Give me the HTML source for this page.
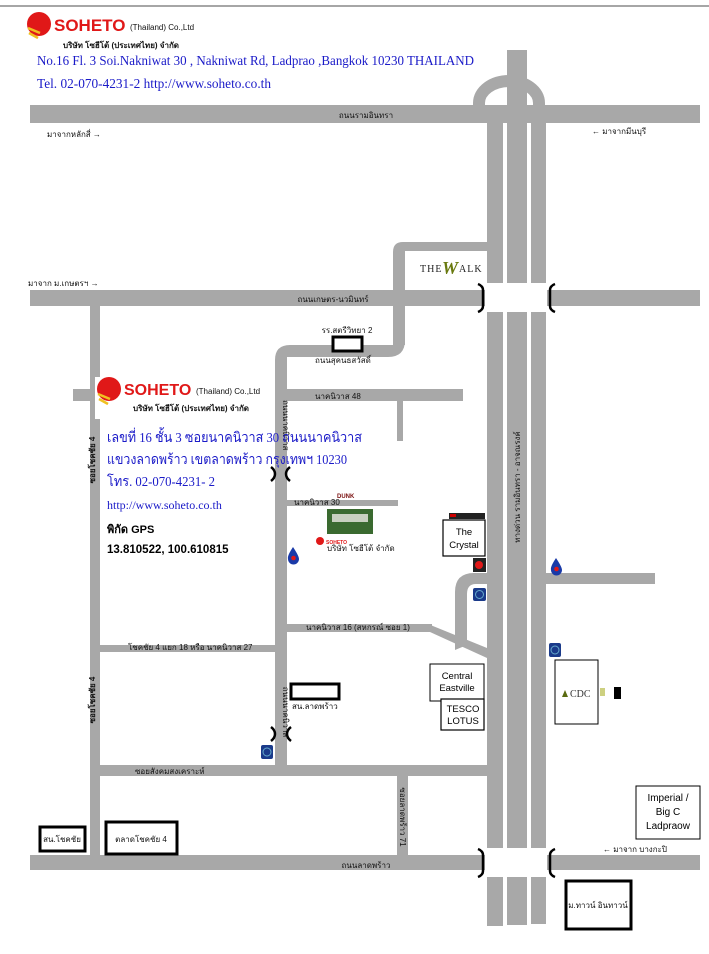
<!DOCTYPE html>
<html><head><meta charset="utf-8"><style>
html,body{margin:0;padding:0;background:#fff;}
svg{display:block;}
.t{font-family:"Liberation Sans","Noto Sans CJK SC",sans-serif;font-size:8px;fill:#111;}
.b{font-family:"Liberation Serif","Noto Serif CJK SC",serif;fill:#1a1ac8;}
</style></head><body>
<svg width="709" height="954" viewBox="0 0 709 954" xmlns="http://www.w3.org/2000/svg">
<line x1="0" y1="6" x2="709" y2="6" stroke="#888" stroke-width="1.5"/>
<path d="M479,108 L479,103 A30,22 0 0 1 539,103 L539,108" fill="none" stroke="#a8a8a8" stroke-width="12"/>
<g fill="#a8a8a8">
<rect x="507" y="50" width="20" height="875"/>
<rect x="487" y="120" width="16" height="806"/>
<rect x="531" y="120" width="15" height="804"/>
<rect x="30" y="105" width="670" height="18"/>
<rect x="30" y="290" width="670" height="16"/>
<rect x="30" y="855" width="670" height="15"/>
<path d="M393,345 L393,252 Q393,242 403,242 L487,242 L487,251 L405,251 L405,345 Z"/>
<path d="M405,340 Q405,357 388,357 L287,357 L287,740 L275,740 L275,360 Q275,345 290,345 L395,345 Z"/>
<rect x="90" y="306" width="10" height="560"/>
<rect x="73" y="389" width="390" height="12"/>
<rect x="397" y="401" width="6" height="40"/>
<rect x="285" y="500" width="113" height="6"/>
<rect x="285" y="624" width="147" height="8"/>
<path d="M428,624 L487,648 L487,658 L430,632 Z"/>
<rect x="100" y="645" width="175" height="7"/>
<path d="M455,650 L455,592 Q455,573 474,573 L487,573 L487,584 L476,584 Q467,584 467,594 L467,645 Z"/>
<rect x="546" y="573" width="109" height="11"/>
<rect x="100" y="765" width="387" height="11"/>
<rect x="275" y="735" width="12" height="30"/>
<rect x="397" y="776" width="11" height="80"/>
</g>
<rect x="485" y="283" width="62" height="29" fill="#fff"/>
<rect x="485" y="848" width="62" height="29" fill="#fff"/>
<g fill="none" stroke="#000" stroke-width="2.5">
<path d="M478,284 Q483,286 483,290 L483,306 Q483,310 478,312"/>
<path d="M555,284 Q550,286 550,290 L550,306 Q550,310 555,312"/>
<path d="M478,849 Q483,851 483,855 L483,871 Q483,875 478,877"/>
<path d="M555,849 Q550,851 550,855 L550,871 Q550,875 555,877"/>
<path d="M271,467 Q275,470 275,474 Q275,478 271,481 M290,467 Q286,470 286,474 Q286,478 290,481"/>
<path d="M271,727 Q275,730 275,734 Q275,738 271,741 M291,727 Q287,730 287,734 Q287,738 291,741"/>
</g>
<circle cx="39" cy="24" r="12" fill="#e01818"/>
<path d="M28,28 L40,33 M29,33 L38,38" stroke="#f0c020" stroke-width="2.5"/>
<text x="54" y="31" font-family="Liberation Sans" font-weight="bold" font-size="17" fill="#e01818">SOHETO</text>
<text x="130" y="30" class="t" font-size="8">(Thailand) Co.,Ltd</text>
<text x="63" y="48" class="t" font-size="8" font-weight="bold">บริษัท โซฮีโต้ (ประเทศไทย) จำกัด</text>
<text x="37" y="65" class="b" font-size="13.5" textLength="437" lengthAdjust="spacingAndGlyphs">No.16  Fl. 3  Soi.Nakniwat 30 , Nakniwat Rd, Ladprao ,Bangkok 10230  THAILAND</text>
<text x="37" y="88" class="b" font-size="13.5" textLength="234" lengthAdjust="spacingAndGlyphs">Tel. 02-070-4231-2    http://www.soheto.co.th</text>
<text x="366" y="118" class="t" text-anchor="middle">ถนนรามอินทรา</text>
<text x="47" y="137" class="t">มาจากหลักสี่ →</text>
<text x="592" y="134" class="t">← มาจากมีนบุรี</text>
<text x="28" y="286" class="t">มาจาก ม.เกษตรฯ →</text>
<text x="333" y="302" class="t" text-anchor="middle">ถนนเกษตร-นวมินทร์</text>
<text x="420" y="272" font-family="Liberation Serif" font-size="10" fill="#222" letter-spacing="1">THE</text>
<text x="442" y="274" font-family="Liberation Serif" font-style="italic" font-size="18" font-weight="bold" fill="#6a7a10">W</text>
<text x="459" y="272" font-family="Liberation Serif" font-size="10" fill="#222" letter-spacing="1">ALK</text>
<text x="347" y="333" class="t" font-size="7" text-anchor="middle">รร.สตรีวิทยา 2</text>
<rect x="333" y="337" width="29" height="14" fill="#fff" stroke="#000" stroke-width="3"/>
<text x="315" y="363" class="t" font-size="7">ถนนสุคนธสวัสดิ์</text>
<text x="315" y="399" class="t" font-size="7">นาคนิวาส 48</text>
<text x="295" y="388" class="t" font-size="7" transform="rotate(90 283 388)">ถนนนาคนิวาส</text>
<text x="95" y="460" class="t" font-size="7.5" font-weight="bold" transform="rotate(-90 95 460)" text-anchor="middle">ซอยโชคชัย 4</text>
<text x="95" y="700" class="t" font-size="7.5" font-weight="bold" transform="rotate(-90 95 700)" text-anchor="middle">ซอยโชคชัย 4</text>
<rect x="95" y="377" width="180" height="42" fill="#fff"/>
<circle cx="109" cy="389" r="12" fill="#e01818"/>
<path d="M98,394 L110,399 M99,399 L108,404" stroke="#f0c020" stroke-width="2.5"/>
<text x="124" y="395" font-family="Liberation Sans" font-weight="bold" font-size="16" fill="#e01818">SOHETO</text>
<text x="196" y="394" class="t" font-size="7.5">(Thailand) Co.,Ltd</text>
<text x="133" y="411" class="t" font-size="7.5" font-weight="bold">บริษัท โซฮีโต้ (ประเทศไทย) จำกัด</text>
<text x="107" y="442" class="b" font-size="14" textLength="255" lengthAdjust="spacingAndGlyphs">เลขที่ 16 ชั้น 3  ซอยนาคนิวาส  30  ถนนนาคนิวาส</text>
<text x="107" y="464" class="b" font-size="14" textLength="240" lengthAdjust="spacingAndGlyphs">แขวงลาดพร้าว  เขตลาดพร้าว  กรุงเทพฯ 10230</text>
<text x="107" y="486" class="b" font-size="14" textLength="108" lengthAdjust="spacingAndGlyphs">โทร. 02-070-4231- 2</text>
<text x="107" y="509" class="b" font-size="12">http://www.soheto.co.th</text>
<text x="107" y="533" font-family="Liberation Sans" font-weight="bold" font-size="11" fill="#000">พิกัด GPS</text>
<text x="107" y="553" font-family="Liberation Sans" font-weight="bold" font-size="11.5" fill="#000">13.810522, 100.610815</text>
<text x="337" y="498" font-family="Liberation Sans" font-weight="bold" font-size="6" fill="#7a1010">DUNK</text>
<text x="294" y="505" class="t" font-size="7">นาคนิวาส 30</text>
<rect x="327" y="509" width="46" height="25" fill="#3a6a30"/>
<rect x="332" y="514" width="36" height="8" fill="#c8d0c0"/>
<circle cx="320" cy="541" r="4" fill="#e01818"/>
<text x="326" y="544" font-family="Liberation Sans" font-weight="bold" font-size="5" fill="#e01818">SOHETO</text>
<text x="327" y="551" class="t" font-size="3">บริษัท โซฮีโต้ จำกัด</text>
<path d="M293,547 Q287,556 288,559 A5,5 0 0 0 299,559 Q299,556 293,547 Z" fill="#1a3aa8"/><circle cx="293.5" cy="558" r="2.3" fill="#e01818"/>
<path d="M556,558 Q550,567 551,570 A5,5 0 0 0 562,570 Q562,567 556,558 Z" fill="#1a3aa8"/><circle cx="556.5" cy="569" r="2.3" fill="#e01818"/>
<rect x="449" y="513" width="36" height="6" fill="#222"/><rect x="450" y="514" width="6" height="3" fill="#c00"/>
<rect x="443" y="520" width="42" height="36" fill="#fff" stroke="#000" stroke-width="1.2"/>
<text x="464" y="535" font-family="Liberation Sans" font-size="9.5" text-anchor="middle">The</text>
<text x="464" y="548" font-family="Liberation Sans" font-size="9.5" text-anchor="middle">Crystal</text>
<rect x="473" y="558" width="13" height="14" fill="#222"/><circle cx="479" cy="565" r="4" fill="#e01818"/>
<g fill="#1a3a8a"><rect x="473" y="588" width="13" height="13" rx="2"/><rect x="549" y="643" width="12" height="14" rx="2"/><rect x="261" y="745" width="12" height="14" rx="2"/></g>
<g fill="none" stroke="#6ac" stroke-width="1"><circle cx="479.5" cy="594.5" r="4"/><circle cx="555" cy="650" r="4"/><circle cx="267" cy="752" r="4"/></g>
<text x="306" y="630" class="t" font-size="7">นาคนิวาส 16 (สหกรณ์ ซอย 1)</text>
<text x="128" y="650" class="t" font-size="7">โชคชัย 4 แยก 18 หรือ นาคนิวาส 27</text>
<text x="285" y="710" class="t" font-size="7" transform="rotate(90 283 710)" text-anchor="middle">ถนนนาคนิวาส</text>
<rect x="291" y="684" width="48" height="15" fill="#fff" stroke="#000" stroke-width="3"/>
<text x="292" y="709" class="t" font-size="5.5">สน.ลาดพร้าว</text>
<rect x="430" y="664" width="54" height="37" fill="#fff" stroke="#000" stroke-width="1"/>
<text x="457" y="679" font-family="Liberation Sans" font-size="9.5" text-anchor="middle">Central</text>
<text x="457" y="691" font-family="Liberation Sans" font-size="9.5" text-anchor="middle">Eastville</text>
<rect x="441" y="699" width="43" height="31" fill="#fff" stroke="#000" stroke-width="1.2"/>
<text x="463" y="712" font-family="Liberation Sans" font-size="9.5" text-anchor="middle">TESCO</text>
<text x="463" y="724" font-family="Liberation Sans" font-size="9.5" text-anchor="middle">LOTUS</text>
<rect x="555" y="660" width="43" height="64" fill="#fff" stroke="#000" stroke-width="1"/>
<path d="M562,697 L565,690 L568,697 Z" fill="#5a6a10"/>
<text x="570" y="697" font-family="Liberation Serif" font-size="10" fill="#333">CDC</text>
<rect x="600" y="688" width="5" height="8" fill="#cdd080"/>
<rect x="614" y="687" width="7" height="12" fill="#000"/>
<text x="135" y="774" class="t" font-size="7">ซอยสังคมสงเคราะห์</text>
<text x="402" y="815" class="t" font-size="7" transform="rotate(90 400 815)" text-anchor="middle">ซอยลาดพร้าว 71</text>
<rect x="636" y="786" width="64" height="53" fill="#fff" stroke="#000" stroke-width="1"/>
<text x="668" y="801" font-family="Liberation Sans" font-size="10" text-anchor="middle">Imperial /</text>
<text x="668" y="815" font-family="Liberation Sans" font-size="10" text-anchor="middle">Big C</text>
<text x="668" y="829" font-family="Liberation Sans" font-size="10" text-anchor="middle">Ladpraow</text>
<text x="603" y="852" class="t" font-size="8">← มาจาก บางกะปิ</text>
<rect x="40" y="827" width="45" height="24" fill="#fff" stroke="#000" stroke-width="3"/>
<text x="62" y="842" class="t" font-size="6" text-anchor="middle">สน.โชคชัย</text>
<rect x="106" y="822" width="71" height="32" fill="#fff" stroke="#000" stroke-width="3"/>
<text x="141" y="842" class="t" font-size="8" text-anchor="middle">ตลาดโชคชัย 4</text>
<text x="366" y="868" class="t" text-anchor="middle">ถนนลาดพร้าว</text>
<rect x="566" y="881" width="65" height="48" fill="#fff" stroke="#000" stroke-width="3"/>
<text x="598" y="908" class="t" font-size="6" text-anchor="middle">ม.ทาวน์ อินทาวน์</text>
<text x="520" y="487" class="t" font-size="9.5" transform="rotate(-90 520 487)" text-anchor="middle">ทางด่วน รามอินทรา - อาจณรงค์</text>
</svg>
</body></html>
